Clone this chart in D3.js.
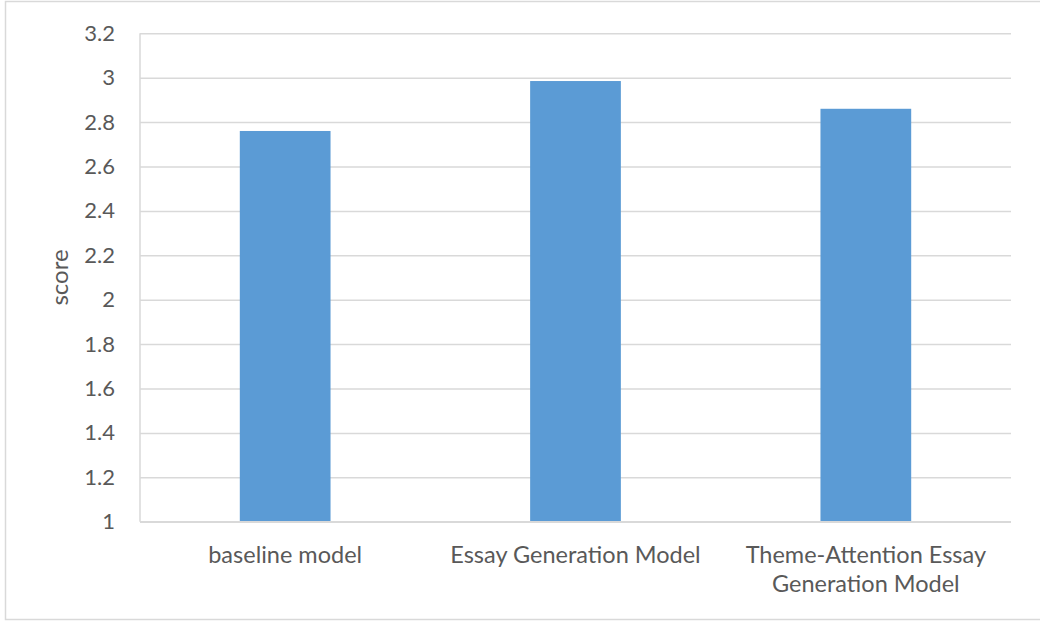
<!DOCTYPE html>
<html>
<head>
<meta charset="utf-8">
<script src="https://cdn.jsdelivr.net/npm/d3@7"></script>
<style>
  html, body { margin: 0; padding: 0; background: #ffffff; }
  svg { display: block; }
  text { font-family: "Lato", "Liberation Sans", sans-serif; fill: #595959; }
</style>
</head>
<body>
<svg id="chart" width="1040" height="623"></svg>
<script>
// Model comparison: average score per essay generation model
const categories = [
  ["baseline model"],
  ["Essay Generation Model"],
  ["Theme-Attention Essay", "Generation Model"]
];
const scores = [2.76, 2.985, 2.86];
const yTicks = [1, 1.2, 1.4, 1.6, 1.8, 2, 2.2, 2.4, 2.6, 2.8, 3, 3.2];
const yTitle = "score";

const svg = d3.select("#chart");
const W = 1040, H = 623;
const plot = { left: 140, right: 1011, top: 33.3, bottom: 521.7 };

// outer frame of the chart area
svg.append("rect")
  .attr("x", 5.5).attr("y", 1.5)
  .attr("width", W + 10).attr("height", 618)
  .attr("fill", "#ffffff")
  .attr("stroke", "#d9d9d9").attr("stroke-width", 1.5);

const x = d3.scaleBand()
  .domain(categories.map((d, i) => i))
  .range([plot.left, plot.right])
  .paddingInner(0.6875)
  .paddingOuter(0.34375);

const y = d3.scaleLinear()
  .domain([1, 3.2])
  .range([plot.bottom, plot.top]);

// horizontal gridlines + value labels
const yAxis = d3.axisLeft(y)
  .tickValues(yTicks)
  .tickFormat(d3.format("~g"))
  .tickSize(-(plot.right - plot.left))
  .tickPadding(25);

const gy = svg.append("g")
  .attr("transform", `translate(${plot.left},0)`)
  .call(yAxis);
gy.select(".domain").remove();
gy.selectAll(".tick line").attr("stroke", "#d9d9d9").attr("stroke-width", 1.5);
gy.selectAll(".tick text")
  .attr("font-size", 22)
  .style("font-family", "Lato, sans-serif")
  .attr("fill", "#595959");

// left edge line of the plot
svg.append("line")
  .attr("x1", plot.left).attr("x2", plot.left)
  .attr("y1", plot.top).attr("y2", plot.bottom)
  .attr("stroke", "#d9d9d9").attr("stroke-width", 1.5);

// bars
svg.append("g").selectAll("rect")
  .data(scores)
  .join("rect")
  .attr("x", (d, i) => x(i))
  .attr("width", x.bandwidth())
  .attr("y", d => y(d))
  .attr("height", d => y(1) - y(d))
  .attr("fill", "#5b9bd5");

// baseline axis
svg.append("line")
  .attr("x1", plot.left).attr("x2", plot.right)
  .attr("y1", y(1)).attr("y2", y(1))
  .attr("stroke", "#d9d9d9").attr("stroke-width", 1.5);

// category labels (multi-line)
const lab = svg.append("g").selectAll("text")
  .data(categories)
  .join("text")
  .attr("text-anchor", "middle")
  .attr("font-size", 23.5)
  .attr("x", (d, i) => x(i) + x.bandwidth() / 2)
  .attr("y", 563);
lab.selectAll("tspan")
  .data(d => d)
  .join("tspan")
  .attr("x", function () { return d3.select(this.parentNode).attr("x"); })
  .attr("dy", (d, i) => i === 0 ? 0 : 29)
  .text(d => d);

// y-axis title
svg.append("text")
  .attr("transform", `translate(68,${(plot.top + plot.bottom) / 2}) rotate(-90)`)
  .attr("text-anchor", "middle")
  .attr("font-size", 24)
  .text(yTitle);
</script>
</body>
</html>
